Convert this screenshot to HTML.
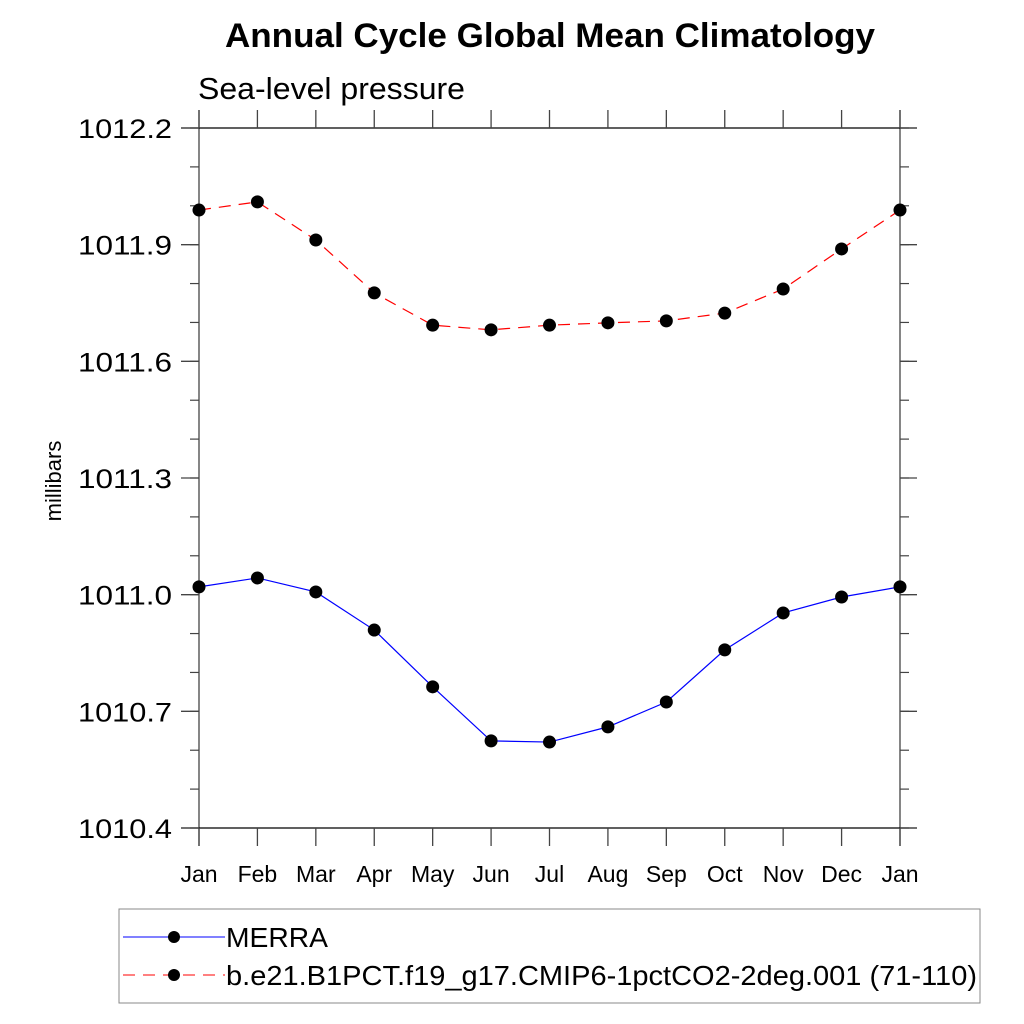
<!DOCTYPE html>
<html><head><meta charset="utf-8"><style>
body{margin:0;background:#fff;}
svg{display:block;font-family:"Liberation Sans",sans-serif;}
</style></head><body>
<svg id="chart" width="1024" height="1024" viewBox="0 0 1024 1024">
<text x="225" y="47" textLength="650" lengthAdjust="spacingAndGlyphs" font-size="34" font-weight="bold">Annual Cycle Global Mean Climatology</text>
<text x="198" y="99" textLength="267" lengthAdjust="spacingAndGlyphs" font-size="31">Sea-level pressure</text>
<text transform="translate(61,481) rotate(-90)" text-anchor="middle" font-size="22">millibars</text>
<g id="axes"></g>
<g id="series"></g>
<rect x="119" y="909" width="861" height="94" fill="none" stroke="#888" stroke-width="1"/>
<g>
<line x1="123" y1="937" x2="225" y2="937" stroke="#0000ff" stroke-width="1"/>
<circle cx="174" cy="937" r="6" fill="#000"/>
<text x="226" y="947" font-size="28" textLength="102" lengthAdjust="spacingAndGlyphs">MERRA</text>
</g>
<g>
<line x1="123" y1="975" x2="225" y2="975" stroke="#ff0000" stroke-width="1" stroke-dasharray="12,8"/>
<circle cx="174" cy="975" r="6" fill="#000"/>
<text x="226" y="985" font-size="28" textLength="751" lengthAdjust="spacingAndGlyphs">b.e21.B1PCT.f19_g17.CMIP6-1pctCO2-2deg.001 (71-110)</text>
</g>
</svg>
<script>
const months=["Jan","Feb","Mar","Apr","May","Jun","Jul","Aug","Sep","Oct","Nov","Dec","Jan"];
const yTicks=[1010.4,1010.7,1011.0,1011.3,1011.6,1011.9,1012.2];
const yTickLabels=["1010.4","1010.7","1011.0","1011.3","1011.6","1011.9","1012.2"];
const merra=[1011.020,1011.043,1011.007,1010.909,1010.763,1010.624,1010.621,1010.660,1010.724,1010.858,1010.953,1010.994,1011.020];
const model=[1011.989,1012.010,1011.912,1011.776,1011.693,1011.681,1011.693,1011.699,1011.704,1011.724,1011.786,1011.889,1011.989];
const NS="http://www.w3.org/2000/svg";
const X0=199,X1=900,Y0=828,Y1=128,YMIN=1010.4,YMAX=1012.2;
function xs(i){return X0+(X1-X0)*i/(months.length-1);}
function ys(v){return Y0-(v-YMIN)/(YMAX-YMIN)*(Y0-Y1);}
function mk(t,a,p){const e=document.createElementNS(NS,t);for(const k in a)e.setAttribute(k,a[k]);p.appendChild(e);return e;}
const ax=document.getElementById('axes');
const col="#444";
mk('line',{x1:X0,y1:110,x2:X0,y2:846,stroke:col,'stroke-width':1.3},ax);
mk('line',{x1:X1,y1:110,x2:X1,y2:846,stroke:col,'stroke-width':1.3},ax);
mk('line',{x1:181,y1:Y1,x2:917,y2:Y1,stroke:'#000','stroke-width':1.3},ax);
mk('line',{x1:181,y1:Y0,x2:917,y2:Y0,stroke:'#000','stroke-width':1.3},ax);
months.forEach((m,i)=>{
  const x=xs(i);
  mk('line',{x1:x,y1:Y1,x2:x,y2:110,stroke:col,'stroke-width':1.3},ax);
  mk('line',{x1:x,y1:Y0,x2:x,y2:846,stroke:col,'stroke-width':1.3},ax);
  const t=mk('text',{x:x,y:882,'text-anchor':'middle','font-size':23},ax);
  t.textContent=m;
  
  
});
for(let v=YMIN;v<=YMAX+1e-6;v+=0.1){
  const y=ys(v);
  mk('line',{x1:190,y1:y,x2:X0,y2:y,stroke:col,'stroke-width':1.2},ax);
  mk('line',{x1:X1,y1:y,x2:909,y2:y,stroke:col,'stroke-width':1.2},ax);
}
yTicks.forEach((v,i)=>{
  const y=ys(v);
  mk('line',{x1:181,y1:y,x2:X0,y2:y,stroke:col,'stroke-width':1.3},ax);
  mk('line',{x1:X1,y1:y,x2:917,y2:y,stroke:col,'stroke-width':1.3},ax);
  const t=mk('text',{x:172,y:y+10,'text-anchor':'end','font-size':27,textLength:94,lengthAdjust:'spacingAndGlyphs'},ax);
  t.textContent=yTickLabels[i];
  
  
});
const sg=document.getElementById('series');
function draw(vals,color,dash,name){
  const g=mk('g',{},sg);
  
  
  const pts=vals.map((v,i)=>xs(i)+','+ys(v)).join(' ');
  const a={points:pts,fill:'none',stroke:color,'stroke-width':1.2};
  if(dash)a['stroke-dasharray']=dash;
  const l=mk('polyline',a,g);
  
  
  vals.forEach((v,i)=>{
    const c=mk('circle',{cx:xs(i),cy:ys(v),r:6.5,fill:'#000'},g);
    
    
  });
}
draw(merra,'#0000ff',null,'merra-series');
draw(model,'#ff0000','12,8','model-series');
</script>
</body></html>
